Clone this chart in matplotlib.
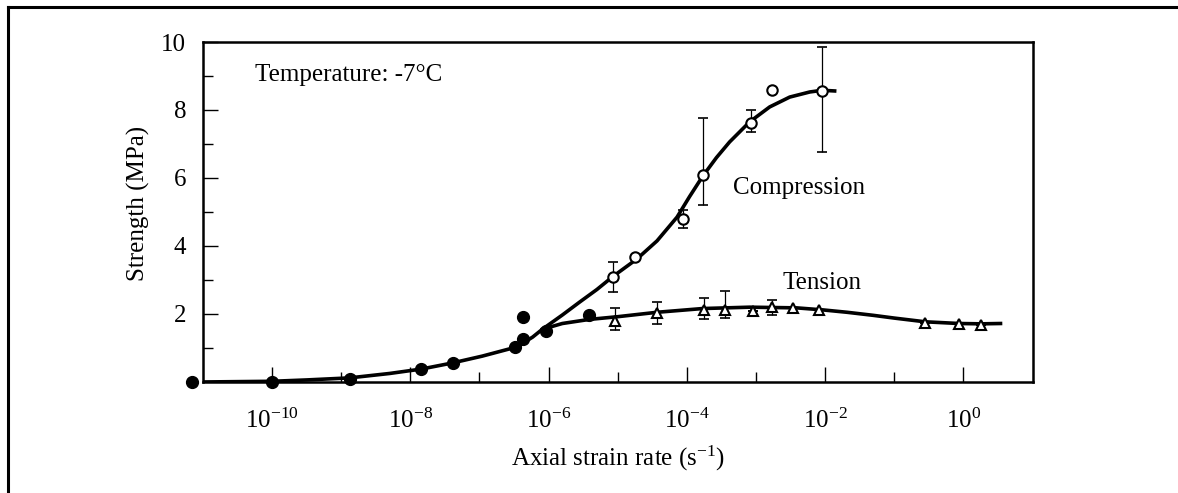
import numpy as np
import matplotlib
matplotlib.use('Agg')
import matplotlib.pyplot as plt
from matplotlib.lines import Line2D
from matplotlib.ticker import NullFormatter

plt.rcParams['font.family'] = ['Liberation Serif', 'DejaVu Serif']
plt.rcParams['mathtext.fontset'] = 'custom'
plt.rcParams['mathtext.rm'] = 'Liberation Serif'
plt.rcParams['mathtext.it'] = 'Liberation Serif:italic'

# filled circles (low strain rates, common to both tests)
low_rate = [7e-12, 1e-10, 1.35e-9, 1.45e-8, 4.1e-8, 3.3e-7, 4.3e-7, 4.3e-7, 9.3e-7, 3.8e-6]
low_str = [0.0, 0.0, 0.1, 0.38, 0.56, 1.03, 1.26, 1.91, 1.5, 1.97]

# compression (open circles)
comp_rate = [8.7e-6, 1.8e-5, 8.7e-5, 1.7e-4, 8.5e-4, 1.7e-3, 9.1e-3]
comp_str = [3.09, 3.68, 4.8, 6.1, 7.63, 8.6, 8.56]
comp_lo = [0.44, 0, 0.27, 0.9, 0.28, 0, 1.8]
comp_hi = [0.44, 0, 0.26, 1.65, 0.37, 0, 1.29]

# tension (open triangles)
tens_rate = [9.1e-6, 3.7e-5, 1.8e-4, 3.6e-4, 9.1e-4, 1.7e-3, 3.5e-3, 8.1e-3, 0.28, 0.87, 1.8]
tens_str = [1.8, 2.02, 2.12, 2.12, 2.09, 2.2, 2.18, 2.12, 1.74, 1.71, 1.68]
tens_lo = [0.27, 0.32, 0.27, 0.24, 0, 0.23, 0, 0, 0, 0, 0]
tens_hi = [0.38, 0.34, 0.34, 0.56, 0, 0.21, 0, 0, 0, 0, 0]

# fitted curves as log10(rate) vs strength
comp_curve_exp = [-11.0, -10.0, -9.5, -8.88, -8.3, -7.84, -7.39, -6.96, -6.46, -6.23,
                  -6.09, -5.80, -5.55, -5.30, -5.07, -4.72, -4.43, -4.14, -3.96, -3.77,
                  -3.57, -3.38, -3.09, -2.80, -2.51, -2.22, -2.04, -1.86]
comp_curve_str = [0.0, 0.02, 0.06, 0.12, 0.25, 0.38, 0.56, 0.76, 1.03, 1.32,
                  1.55, 1.97, 2.35, 2.72, 3.1, 3.62, 4.15, 4.85, 5.45, 6.05,
                  6.6, 7.06, 7.65, 8.09, 8.38, 8.53, 8.58, 8.56]
tens_curve_exp = [-6.09, -5.80, -5.41, -5.0, -4.43, -3.77, -3.09, -2.41, -2.03, -1.68,
                  -1.3, -1.0, -0.55, -0.06, 0.26, 0.54]
tens_curve_str = [1.55, 1.72, 1.84, 1.92, 2.05, 2.16, 2.2, 2.18, 2.12, 2.05,
                  1.96, 1.88, 1.77, 1.72, 1.71, 1.72]

fig = plt.figure(figsize=(11.78, 4.93), dpi=100)
ax = fig.add_axes([0.1723, 0.2252, 0.8769 - 0.1723, 0.9148 - 0.2252])

ax.plot(10 ** np.array(comp_curve_exp), comp_curve_str, color='black', lw=2.6,
        solid_joinstyle='round', zorder=2)
ax.plot(10 ** np.array(tens_curve_exp), tens_curve_str, color='black', lw=2.6,
        solid_joinstyle='round', zorder=2)

ax.errorbar(comp_rate, comp_str, yerr=[comp_lo, comp_hi], fmt='none', ecolor='black',
            elinewidth=0.9, capsize=3.5, capthick=1.2, zorder=3)
ax.errorbar(tens_rate, tens_str, yerr=[tens_lo, tens_hi], fmt='none', ecolor='black',
            elinewidth=0.9, capsize=3.5, capthick=1.2, zorder=3)

ax.plot(low_rate, low_str, 'o', color='black', ms=8.5, ls='none', clip_on=False, zorder=4)
ax.plot(comp_rate, comp_str, 'o', mfc='white', mec='black', mew=1.5, ms=7.5, ls='none', zorder=4)
ax.plot(tens_rate, tens_str, '^', mfc='white', mec='black', mew=1.5, ms=6.5, ls='none', zorder=4)

ax.set_xscale('log')
ax.set_xlim(1e-11, 10 ** 1.01)
ax.set_ylim(0, 10)

ax.set_xticks([10.0 ** e for e in range(-10, 1, 2)])
ax.set_xticks([10.0 ** e for e in range(-9, 0, 2)], minor=True)
ax.set_xticklabels([r'$\mathregular{10^{%d}}$' % e for e in range(-10, 1, 2)])
ax.xaxis.set_minor_formatter(NullFormatter())
ax.set_yticks([2, 4, 6, 8, 10])
ax.set_yticks([1, 3, 5, 7, 9], minor=True)
ax.tick_params(which='both', direction='in', labelsize=18, top=False, right=False)
ax.tick_params(which='major', length=11, width=1.0)
ax.tick_params(which='minor', length=7, width=1.0)
ax.tick_params(axis='x', which='major', pad=19)
ax.tick_params(axis='y', which='major', pad=12)

for s in ax.spines.values():
    s.set_linewidth(1.8)

ax.set_ylabel('Strength (MPa)', fontsize=18)
ax.yaxis.set_label_coords(-0.064, 0.526)
ax.set_xlabel(r'Axial strain rate (s$\mathregular{^{-1}}$)', fontsize=18)
ax.xaxis.set_label_coords(0.5, -0.182)

ax.text(0.0627, 0.903, 'Temperature: -7°C', transform=ax.transAxes, fontsize=18, va='center')
ax.text(10 ** -3.33, 5.7, 'Compression', fontsize=18, va='center')
ax.text(10 ** -2.62, 2.9, 'Tension', fontsize=18, va='center')

# outer frame of the figure
fig.add_artist(Line2D([8 / 1178, 1], [1 - 7 / 493, 1 - 7 / 493], color='black', lw=2.2,
                      transform=fig.transFigure))
fig.add_artist(Line2D([8 / 1178, 8 / 1178], [0, 1 - 7 / 493], color='black', lw=2.2,
                      transform=fig.transFigure))

fig.savefig('out.png', dpi=100)
